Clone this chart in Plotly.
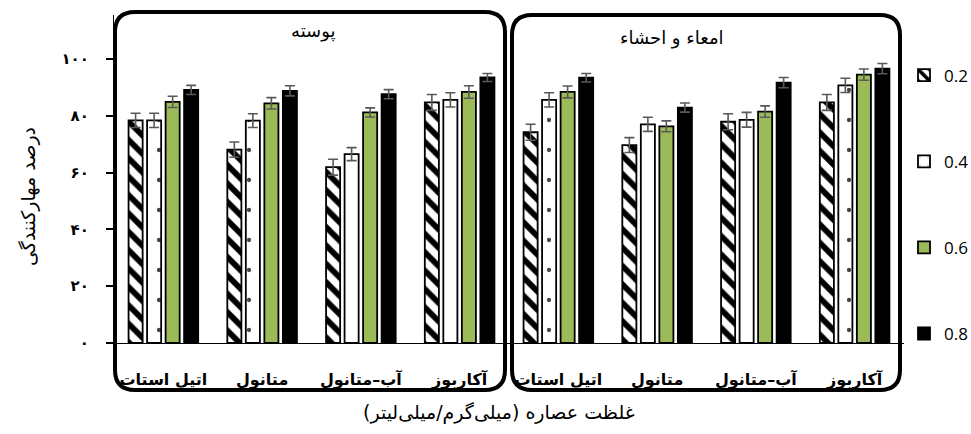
import plotly.graph_objects as go

# ---------------- data ----------------
panels = ["پوسته", "امعاء و احشاء"]
groups = ["اتیل استات", "متانول", "آب–متانول", "آکاربوز"]
concentrations = ["0.2", "0.4", "0.6", "0.8"]

# inhibition % (پوسته then امعاء و احشاء), per concentration
skin_vals = {
    "0.2": [78.4, 68.1, 61.9, 84.7],
    "0.4": [78.4, 78.3, 66.5, 85.6],
    "0.6": [84.9, 84.4, 81.2, 88.4],
    "0.8": [89.1, 88.8, 87.6, 93.5],
}
gut_vals = {
    "0.2": [74.2, 69.7, 77.9, 84.7],
    "0.4": [85.6, 77.0, 78.6, 90.7],
    "0.6": [88.4, 76.3, 81.5, 94.5],
    "0.8": [93.4, 82.9, 91.7, 96.6],
}
skin_err = {
    "0.2": [2.5, 2.7, 2.8, 2.8],
    "0.4": [2.5, 2.4, 2.3, 2.5],
    "0.6": [2.0, 2.0, 1.6, 2.2],
    "0.8": [1.6, 1.8, 1.6, 1.4],
}
gut_err = {
    "0.2": [2.8, 2.6, 2.8, 2.8],
    "0.4": [2.5, 2.5, 2.6, 2.5],
    "0.6": [2.1, 1.9, 2.0, 2.0],
    "0.8": [1.5, 1.6, 1.8, 1.8],
}
y_ticks = [0, 20, 40, 60, 80, 100]
y_ticktext = ["۰", "۲۰", "۴۰", "۶۰", "۸۰", "۱۰۰"]

y_title = "درصد مهارکنندگی"
x_title = "غلظت عصاره (میلی‌گرم/میلی‌لیتر)"

# ---------------- layout geometry ----------------
W, H = 971, 434
ML, MR, MT, MB = 114, 67, 15, 91
PW = W - ML - MR
PH = H - MT - MB


def px2paper(px, py):
    return (px - ML) / PW, (H - MB - py) / PH


def rrect(x0, y0, x1, y1, r):
    def p(x, y):
        a, b = px2paper(x, y)
        return f"{a:.5f},{b:.5f}"

    return (f"M {p(x0 + r, y0)} L {p(x1 - r, y0)} Q {p(x1, y0)} {p(x1, y0 + r)} "
            f"L {p(x1, y1 - r)} Q {p(x1, y1)} {p(x1 - r, y1)} "
            f"L {p(x0 + r, y1)} Q {p(x0, y1)} {p(x0, y1 - r)} "
            f"L {p(x0, y0 + r)} Q {p(x0, y0)} {p(x0 + r, y0)} Z")


x_keys = [f"{p}|{g}" for p in panels for g in groups]
tick_text = groups * len(panels)

styles = {
    "0.2": dict(color="white", pattern=dict(shape="\\", fgcolor="black", bgcolor="white",
                                            size=13, solidity=0.45, fillmode="replace",
                                            fgopacity=1)),
    "0.4": dict(color="white", pattern=dict(shape=".", fgcolor="#444444", bgcolor="white",
                                            size=30, solidity=0.016, fillmode="replace",
                                            fgopacity=1)),
    "0.6": dict(color="#9BBB59"),
    "0.8": dict(color="black"),
}

fig = go.Figure()
for c in concentrations:
    vals = skin_vals[c] + gut_vals[c]
    errs = skin_err[c] + gut_err[c]
    st = styles[c]
    marker = dict(color=st["color"], line=dict(color="black", width=1.8))
    if "pattern" in st:
        marker["pattern"] = st["pattern"]
    fig.add_trace(go.Bar(
        x=x_keys, y=vals, name=c, legendgroup=c,
        marker=marker,
        error_y=dict(type="data", array=errs, visible=True,
                     color="#595959", thickness=1.6, width=5),
    ))

shapes = [
    dict(type="path", xref="paper", yref="paper", path=rrect(115, 12, 505, 390, 20),
         line=dict(color="black", width=4), layer="above"),
    dict(type="path", xref="paper", yref="paper", path=rrect(512, 15, 900, 390, 20),
         line=dict(color="black", width=4), layer="above"),
]

annotations = []
for name, (px, py) in zip(panels, [(313, 31), (672, 38)]):
    ax, ay = px2paper(px, py)
    annotations.append(dict(text=name, x=ax, y=ay, xref="paper", yref="paper",
                            xanchor="center", yanchor="middle",
                            showarrow=False, font=dict(size=18, color="black",
                                                       family="DejaVu Sans")))
ax, ay = px2paper(28, 197)
annotations.append(dict(text=y_title, x=ax, y=ay, xref="paper", yref="paper",
                        xanchor="center", yanchor="middle",
                        textangle=-90, showarrow=False,
                        font=dict(size=19, color="black", family="DejaVu Sans")))
ax, ay = px2paper(499, 412)
annotations.append(dict(text=x_title, x=ax, y=ay, xref="paper", yref="paper",
                        xanchor="center", yanchor="middle",
                        showarrow=False,
                        font=dict(size=19, color="black", family="DejaVu Sans")))

fig.update_layout(
    width=W, height=H,
    margin=dict(l=ML, r=MR, t=MT, b=MB, autoexpand=False),
    paper_bgcolor="white", plot_bgcolor="white",
    barmode="group", bargap=0.25, bargroupgap=0.24,
    font=dict(family="DejaVu Sans", color="black"),
    shapes=shapes, annotations=annotations,
    showlegend=True,
    legend=dict(x=1.0, xanchor="left", y=0.87, yanchor="top",
                tracegroupgap=61, traceorder="grouped",
                font=dict(size=17, family="Open Sans", color="black"),
                itemwidth=30, bgcolor="rgba(0,0,0,0)"),
)
fig.update_xaxes(
    type="category", categoryorder="array", categoryarray=x_keys,
    tickvals=x_keys, ticktext=tick_text,
    showline=True, linecolor="black", linewidth=1.2, ticks="",
    ticklabelstandoff=22,
    tickfont=dict(size=16, family="DejaVu Sans", color="black", weight="bold"),
    showgrid=False, zeroline=False,
)
fig.update_yaxes(
    range=[0, PH / 2.84], tickvals=y_ticks, ticktext=y_ticktext,
    showline=True, linecolor="black", linewidth=1.2,
    ticks="outside", ticklen=7, tickwidth=1.5, tickcolor="black",
    ticklabelstandoff=14,
    tickfont=dict(size=15, family="DejaVu Sans", color="black", weight="bold"),
    showgrid=False, zeroline=False,
)

fig.write_html("out.html")
